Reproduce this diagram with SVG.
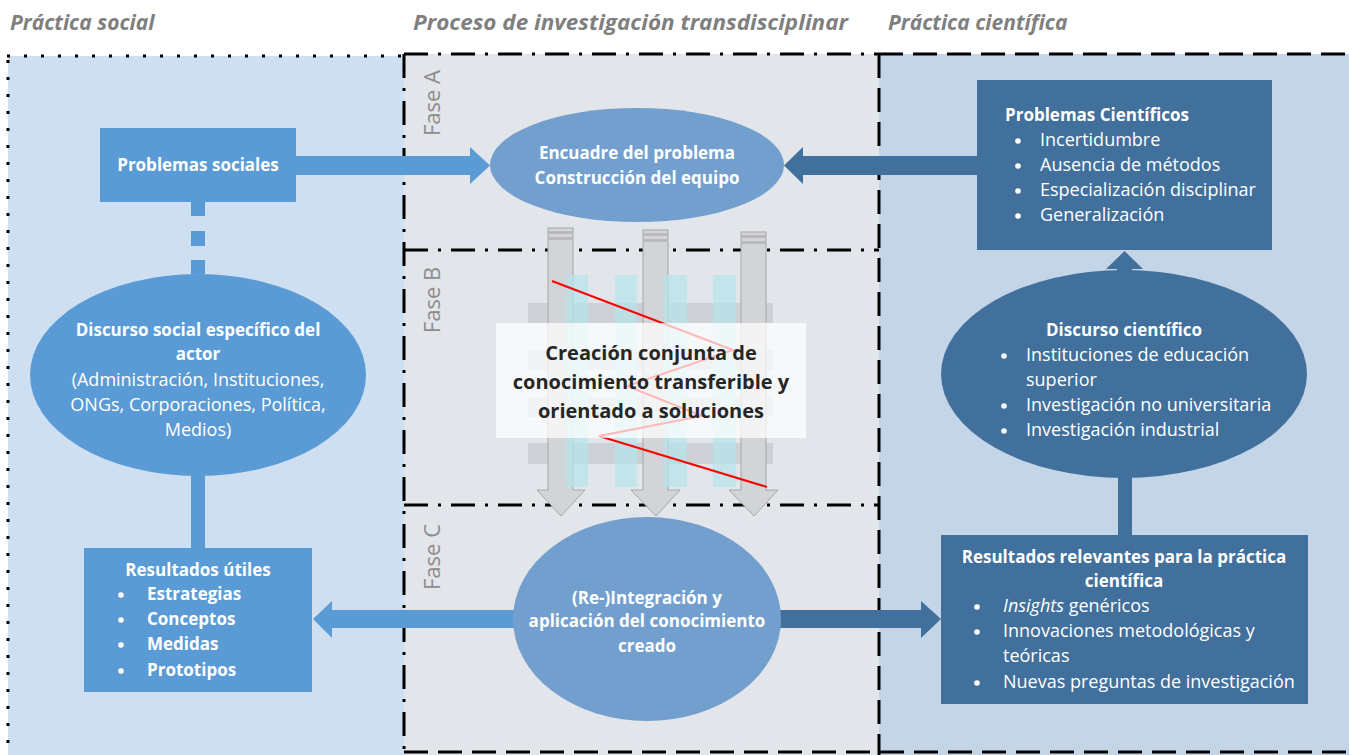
<svg xmlns="http://www.w3.org/2000/svg" width="1349" height="755" viewBox="0 0 1349 755">
<style>
.hdr{font-family:"Open Sans",Lato,sans-serif;font-style:italic;font-weight:bold;font-size:21px;fill:#7f7f7f}
.fase{font-family:"Open Sans",Lato,sans-serif;font-size:22px;fill:#8c8c8c}
.w{font-family:"Open Sans",Lato,sans-serif;fill:#fff;font-size:18px}
.b{font-weight:bold;font-size:17px}
.dk{font-family:"Open Sans",Lato,sans-serif;font-weight:bold;font-size:20px;fill:#262626}
.dashdot{stroke:#000;stroke-width:3;fill:none;stroke-dasharray:24 10 3 10}
.dash{stroke:#000;stroke-width:3;fill:none;stroke-dasharray:24 10}
.dot{stroke:#000;stroke-width:3;fill:none;stroke-dasharray:3 14}
.lb{fill:#5b9bd5}
.md{fill:#729fcd}
.db{fill:#41709c}
.garr{fill:#d2d4d8;stroke:#a6a6a6;stroke-width:1}
.cy{fill:#b7e3ea;opacity:0.75}
.gb{fill:#c8cacf;opacity:0.8}
</style>
<!-- backgrounds -->
<rect x="8" y="56" width="396" height="699" fill="#cddff0"/>
<rect x="404" y="54" width="475" height="701" fill="#e2e5e9"/>
<rect x="879" y="54" width="470" height="701" fill="#c4d5e7"/>

<text class="hdr" x="10" y="30">Práctica social</text>
<text class="hdr" x="413" y="30" textLength="435" lengthAdjust="spacingAndGlyphs">Proceso de investigación transdisciplinar</text>
<text class="hdr" x="888" y="30">Práctica científica</text>

<!-- borders -->
<g id="borders">
<line class="dot" x1="7" y1="56" x2="403" y2="56"/>
<line class="dot" x1="8" y1="60" x2="8" y2="755"/>
<line class="dashdot" x1="404" y1="54" x2="879" y2="54"/>
<line class="dashdot" x1="404" y1="54" x2="404" y2="755"/>
<line class="dashdot" x1="404" y1="250" x2="879" y2="250"/>
<line class="dashdot" x1="404" y1="505" x2="879" y2="505"/>
<line class="dash" x1="879" y1="54" x2="879" y2="755"/>
<line class="dash" x1="879" y1="54" x2="1349" y2="54"/>
<line class="dash" x1="404" y1="752" x2="1349" y2="752"/>
</g>

<text class="fase" transform="translate(440,103) rotate(-90)" text-anchor="middle">Fase A</text>
<text class="fase" transform="translate(440,300) rotate(-90)" text-anchor="middle">Fase B</text>
<text class="fase" transform="translate(440,557) rotate(-90)" text-anchor="middle">Fase C</text>

<!-- Phase B graphics -->
<g id="faseB">
<rect class="gb" x="528" y="303" width="245" height="20"/>
<rect class="gb" x="528" y="350" width="245" height="20"/>
<rect class="gb" x="528" y="397" width="245" height="20"/>
<rect class="gb" x="528" y="443" width="245" height="21"/>
<g id="downarrows">
<rect class="garr" x="548" y="228" width="25" height="4"/>
<rect class="garr" x="548" y="233" width="25" height="5"/>
<path class="garr" d="M548,239 H573 V490 H585 L561,516 L537,490 H548 Z"/>
<rect class="garr" x="643" y="230" width="25" height="4"/>
<rect class="garr" x="643" y="235" width="25" height="5"/>
<path class="garr" d="M643,241 H668 V490 H680 L656,516 L631,490 H643 Z"/>
<rect class="garr" x="741" y="232" width="25" height="4"/>
<rect class="garr" x="741" y="237" width="25" height="5"/>
<path class="garr" d="M741,243 H766 V490 H778 L754,516 L729,490 H741 Z"/>
</g>
<rect class="cy" x="566" y="275" width="22" height="212"/>
<rect class="cy" x="615" y="275" width="22" height="212"/>
<rect class="cy" x="664" y="275" width="23" height="212"/>
<rect class="cy" x="713" y="275" width="23" height="212"/>
<polyline points="552,281 733,350 627,386 702,416 599,436 767,487" fill="none" stroke="#ff0000" stroke-width="2"/>
<rect x="496" y="323" width="310" height="115" fill="#ffffff" opacity="0.72"/>
<text class="dk" text-anchor="middle" x="651" y="360">Creación conjunta de</text>
<text class="dk" text-anchor="middle" x="651" y="389">conocimiento transferible y</text>
<text class="dk" text-anchor="middle" x="651" y="418">orientado a soluciones</text>
</g>

<!-- connectors -->
<g id="connectors">
<path class="lb" d="M296,156 H470 V147 L490,165.5 L470,184 V175 H296 Z"/>
<path class="db" d="M978,156 H803 V147 L784,165.5 L803,184 V175 H978 Z"/>
<rect class="lb" x="191" y="202" width="14" height="14"/>
<rect class="lb" x="191" y="231" width="14" height="15"/>
<rect class="lb" x="191" y="260" width="14" height="14"/>
<rect class="lb" x="191" y="470" width="14" height="80"/>
<path class="db" d="M1117,290 V269 H1106 L1124.5,251 L1143,269 H1132 V290 Z"/>
<rect class="db" x="1118" y="470" width="14" height="66"/>
<path class="lb" d="M520,610 H332 V601 L313,619 L332,638 V628 H520 Z"/>
<path class="db" d="M770,610 H921 V601 L941,619 L921,638 V628 H770 Z"/>
</g>

<!-- nodes -->
<g id="problemas-sociales">
<rect class="lb" x="100" y="128" width="196" height="74"/>
<text class="w b" x="198" y="171" text-anchor="middle">Problemas sociales</text>
</g>

<g id="encuadre">
<ellipse class="md" cx="637" cy="165" rx="147" ry="57"/>
<text class="w b" x="637" y="159" text-anchor="middle">Encuadre del problema</text>
<text class="w b" x="637" y="184" text-anchor="middle">Construcción del equipo</text>
</g>

<g id="problemas-cientificos">
<rect class="db" x="977" y="80" width="295" height="170"/>
<text class="w b" x="1097" y="121" text-anchor="middle">Problemas Científicos</text>
<g class="w">
<circle cx="1018" cy="141" r="2.8" fill="#fff"/><text x="1040" y="146">Incertidumbre</text>
<circle cx="1018" cy="166" r="2.8" fill="#fff"/><text x="1040" y="171">Ausencia de métodos</text>
<circle cx="1018" cy="191" r="2.8" fill="#fff"/><text x="1040" y="196">Especialización disciplinar</text>
<circle cx="1018" cy="216" r="2.8" fill="#fff"/><text x="1040" y="221">Generalización</text>
</g>
</g>

<g id="discurso-social">
<ellipse class="lb" cx="198" cy="375" rx="168" ry="101"/>
<text class="w b" x="198" y="336" text-anchor="middle">Discurso social específico del</text>
<text class="w b" x="198" y="360" text-anchor="middle">actor</text>
<text class="w" x="198" y="386" text-anchor="middle">(Administración, Instituciones,</text>
<text class="w" x="198" y="411" text-anchor="middle">ONGs, Corporaciones, Política,</text>
<text class="w" x="198" y="436" text-anchor="middle">Medios)</text>
</g>

<g id="discurso-cientifico">
<ellipse class="db" cx="1124" cy="374" rx="183" ry="104"/>
<text class="w b" x="1124" y="336" text-anchor="middle">Discurso científico</text>
<circle cx="1004" cy="356" r="2.8" fill="#fff"/><text class="w" x="1026" y="361">Instituciones de educación</text>
<text class="w" x="1026" y="386">superior</text>
<circle cx="1004" cy="406" r="2.8" fill="#fff"/><text class="w" x="1026" y="411">Investigación no universitaria</text>
<circle cx="1004" cy="431" r="2.8" fill="#fff"/><text class="w" x="1026" y="436">Investigación industrial</text>
</g>

<g id="resultados-utiles">
<rect class="lb" x="84" y="548" width="228" height="144"/>
<text class="w b" x="198" y="576" text-anchor="middle">Resultados útiles</text>
<circle cx="121" cy="595" r="2.8" fill="#fff"/><text class="w b" x="147" y="600">Estrategias</text>
<circle cx="121" cy="620" r="2.8" fill="#fff"/><text class="w b" x="147" y="625">Conceptos</text>
<circle cx="121" cy="645" r="2.8" fill="#fff"/><text class="w b" x="147" y="650">Medidas</text>
<circle cx="121" cy="671" r="2.8" fill="#fff"/><text class="w b" x="147" y="676">Prototipos</text>
</g>

<g id="reintegracion">
<ellipse class="md" cx="647" cy="619" rx="134" ry="102"/>
<text class="w b" x="647" y="604" text-anchor="middle">(Re-)Integración y</text>
<text class="w b" x="647" y="627" text-anchor="middle">aplicación del conocimiento</text>
<text class="w b" x="647" y="652" text-anchor="middle">creado</text>
</g>

<g id="resultados-relevantes">
<rect class="db" x="941" y="535" width="367" height="169"/>
<text class="w b" x="1124" y="563" text-anchor="middle">Resultados relevantes para la práctica</text>
<text class="w b" x="1124" y="587" text-anchor="middle">científica</text>
<circle cx="977" cy="607" r="2.8" fill="#fff"/><text class="w" x="1003" y="612"><tspan font-style="italic">Insights</tspan> genéricos</text>
<circle cx="977" cy="632" r="2.8" fill="#fff"/><text class="w" x="1003" y="637">Innovaciones metodológicas y</text>
<text class="w" x="1003" y="662">teóricas</text>
<circle cx="977" cy="683" r="2.8" fill="#fff"/><text class="w" x="1003" y="688">Nuevas preguntas de investigación</text>
</g>
</svg>
